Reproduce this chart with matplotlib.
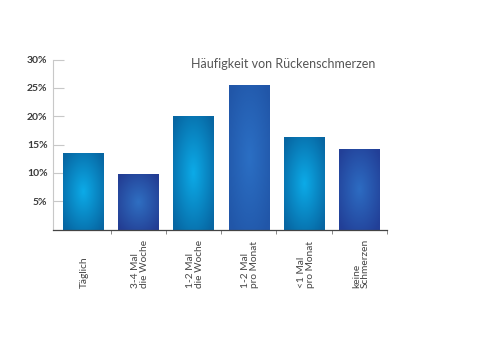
import numpy as np
import matplotlib
matplotlib.use("Agg")
import matplotlib.pyplot as plt
from matplotlib.colors import LinearSegmentedColormap

categories = ["Täglich", "3-4 Mal\ndie Woche", "1-2 Mal\ndie Woche",
              "1-2 Mal\npro Monat", "<1 Mal\npro Monat", "keine\nSchmerzen"]
values = [13.5, 9.8, 20.0, 25.6, 16.4, 14.3]
title = "Häufigkeit von Rückenschmerzen"
yticks = [5, 10, 15, 20, 25, 30]

# gradient colours per bar (center, edge)
grad = [("#0cabe8", "#0766a2"), ("#2f6fc2", "#233d93"), ("#0cabe8", "#0766a2"),
        ("#2b6fc4", "#2156a8"), ("#0cabe8", "#0766a2"), ("#2d6cc2", "#223f97")]

plt.rcParams['font.family'] = ['Lato', 'DejaVu Sans']

fig = plt.figure(figsize=(4.89, 3.45), dpi=100)
ax = fig.add_axes([53/489, 1-229.6/345, (387-53)/489, (229.6-59.6)/345])

width = 0.73
bars = ax.bar(range(len(values)), values, width=width, color="none", edgecolor="none", zorder=2)

ny, nx = 200, 100
yy, xx = np.mgrid[-1:1:ny*1j, -1:1:nx*1j]
for b, (c0, c1) in zip(bars, grad):
    x0, y0 = b.get_x(), b.get_y()
    w, h = b.get_width(), b.get_height()
    d = np.sqrt(xx**2 + yy**2)
    d = np.clip(d / 1.3, 0, 1)
    cmap = LinearSegmentedColormap.from_list("g", [c0, c1])
    im = ax.imshow(d, cmap=cmap, vmin=0, vmax=1, extent=[x0, x0+w, y0, y0+h],
                   origin="lower", aspect="auto", zorder=2, interpolation="bilinear")
    im.set_clip_path(b)

ax.set_xlim(-0.54, 5.5)
ax.set_ylim(0, 30)

ax.spines['top'].set_visible(False)
ax.spines['right'].set_visible(False)
ax.spines['left'].set_color("#c8c8c8")
ax.spines['left'].set_linewidth(0.8)
ax.spines['bottom'].set_color("#444444")
ax.spines['bottom'].set_linewidth(0.9)
ax.spines['bottom'].set_zorder(3)

ax.set_yticks(yticks)
ax.set_yticklabels([f"{v}%" for v in yticks], fontsize=7.5, color="#3a3a3a", fontweight="bold")
ax.tick_params(axis='y', direction='in', length=8, width=0.8, color="#c8c8c8", pad=4)

ax.set_xticks(range(len(categories)))
ax.set_xticklabels([])
ax.tick_params(axis='x', length=0)
ax.set_xticks(np.arange(0.5, 6, 1.0), minor=True)
ax.tick_params(axis='x', which='minor', direction='out', length=3, width=0.7, color="#888888")

ylab = (229.6 - 288) / 170.0
for i, c in enumerate(categories):
    ax.text(i + 0.03, ylab, c, transform=ax.get_xaxis_transform(), rotation=90,
            fontsize=7.3, color="#444444", ha="center", va="bottom",
            multialignment="left", linespacing=1.0, clip_on=False)

fig.text(375/489, 1-64/345, title, fontsize=9, color="#555555", ha="right", va="center")

fig.savefig("out.png", dpi=100, facecolor="white")
